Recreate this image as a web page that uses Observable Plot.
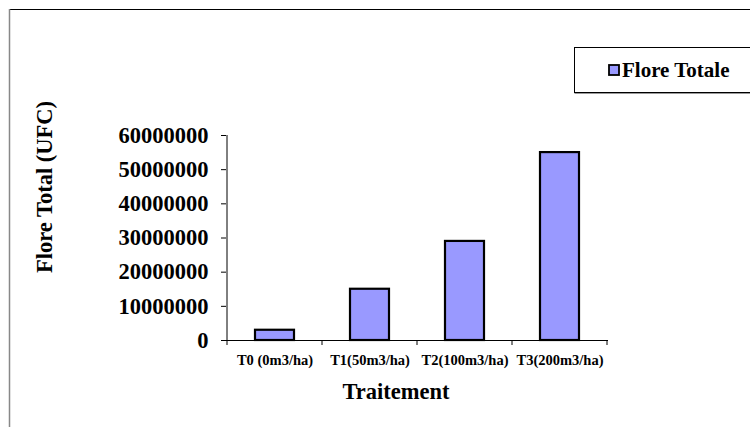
<!DOCTYPE html>
<html>
<head>
<meta charset="utf-8">
<script src="https://cdn.jsdelivr.net/npm/d3@7"></script>
<script src="https://cdn.jsdelivr.net/npm/@observablehq/plot@0.6"></script>
<style>
  html, body { margin: 0; padding: 0; background: #fff; }
  svg { display: block; }
</style>
</head>
<body>
<div id="chart"></div>
<script>
// Total flora count (CFU) by treatment dose
const traitements = ["T0 (0m3/ha)", "T1(50m3/ha)", "T2(100m3/ha)", "T3(200m3/ha)"];
const floreTotale = [3000000, 15000000, 29000000, 55000000];
const yTicks = [0, 10000000, 20000000, 30000000, 40000000, 50000000, 60000000];
const seriesName = "Flore Totale";
const xTitle = "Traitement";
const yTitle = "Flore Total (UFC)";

const data = traitements.map((t, i) => ({traitement: t, valeur: floreTotale[i]}));

const FONT = "'Liberation Serif', 'Times New Roman', serif";
const FILL = "#9999ff";

const chart = Plot.plot({
  width: 750,
  height: 427,
  marginLeft: 226,
  marginRight: 142,
  marginTop: 135,
  marginBottom: 87,
  style: {fontFamily: FONT, fontWeight: "bold", background: "#fff", overflow: "visible"},
  x: {domain: traitements, paddingInner: 0.59, paddingOuter: 0.295, label: null},
  y: {domain: [0, 60000000], label: null},
  marks: [
    Plot.barY(data, {x: "traitement", y: "valeur", fill: FILL, stroke: "#000", strokeWidth: 2.2}),
    Plot.axisY({ticks: yTicks, tickFormat: d => String(d), tickSize: 5, tickPadding: 13,
      fontSize: 22.5, fontWeight: "bold", label: null, stroke: "#000"}),
    Plot.axisX({tickSize: 0, tickPadding: 14, fontSize: 14.5, fontWeight: "bold", label: null}),
    Plot.ruleY([0], {stroke: "#000", strokeWidth: 1})
  ]
});

document.getElementById("chart").appendChild(chart);

const svg = d3.select(chart);
const xs = chart.scale("x");
const ys = chart.scale("y");
const gap = (xs.step - xs.bandwidth) / 2;
const boundaries = traitements.map(t => xs.apply(t) - gap).concat([xs.apply(traitements[traitements.length - 1]) + xs.bandwidth + gap]);
const y0 = ys.apply(0);
const yTop = ys.apply(60000000);

// Vertical axis line spanning the value range
svg.append("line")
  .attr("x1", boundaries[0]).attr("x2", boundaries[0])
  .attr("y1", yTop).attr("y2", y0)
  .attr("stroke", "#000").attr("stroke-width", 1);

// Category-boundary ticks on the horizontal axis
svg.append("g").selectAll("line").data(boundaries).join("line")
  .attr("x1", d => d).attr("x2", d => d)
  .attr("y1", y0).attr("y2", y0 + 5)
  .attr("stroke", "#000").attr("stroke-width", 1);

// Axis titles
svg.append("text")
  .attr("x", 396)
  .attr("y", 399)
  .attr("text-anchor", "middle")
  .attr("font-family", FONT).attr("font-weight", "bold").attr("font-size", 22.5)
  .text(xTitle);

svg.append("text")
  .attr("transform", "translate(52,187) rotate(-90)")
  .attr("text-anchor", "middle")
  .attr("font-family", FONT).attr("font-weight", "bold").attr("font-size", 22.5)
  .text(yTitle);

// Outer chart frame (top and left edges)
svg.append("line").attr("x1", 9).attr("x2", 750).attr("y1", 9.5).attr("y2", 9.5)
  .attr("stroke", "#000").attr("stroke-width", 1);
svg.append("line").attr("x1", 9.5).attr("x2", 9.5).attr("y1", 9).attr("y2", 427)
  .attr("stroke", "#888").attr("stroke-width", 1.5);

// Legend box
const lg = svg.append("g");
lg.append("rect").attr("x", 574.5).attr("y", 47.5).attr("width", 190).attr("height", 45)
  .attr("fill", "#fff").attr("stroke", "#000").attr("stroke-width", 1);
lg.append("line").attr("x1", 574.5).attr("x2", 750).attr("y1", 93.5).attr("y2", 93.5)
  .attr("stroke", "#999").attr("stroke-width", 1);
lg.append("rect").attr("x", 609).attr("y", 65).attr("width", 10).attr("height", 10)
  .attr("fill", FILL).attr("stroke", "#000").attr("stroke-width", 1.8);
lg.append("text").attr("x", 622).attr("y", 77)
  .attr("text-anchor", "start")
  .attr("font-family", FONT).attr("font-weight", "bold").attr("font-size", 21)
  .text(seriesName);
</script>
</body>
</html>
